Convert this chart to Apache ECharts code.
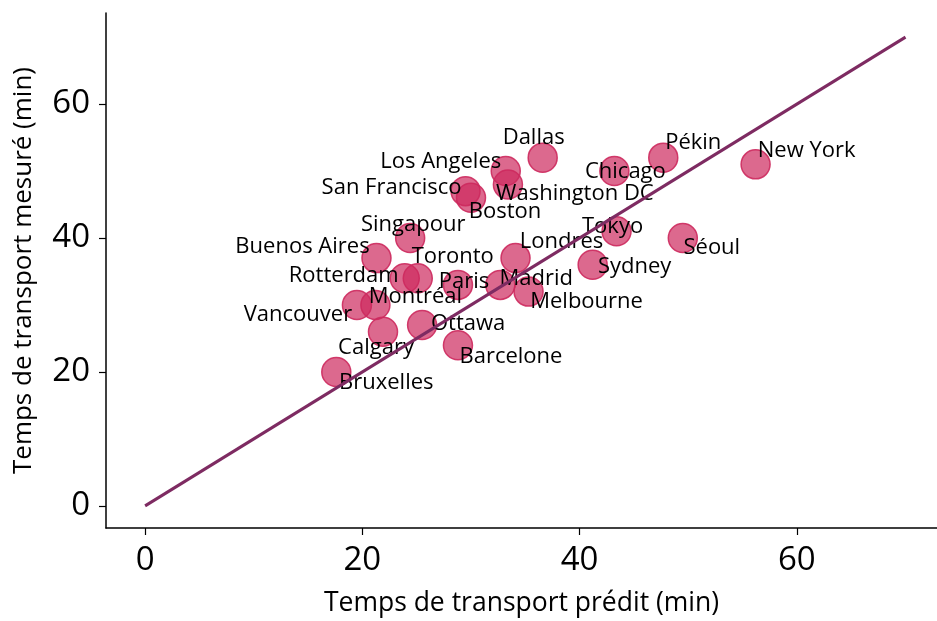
<!DOCTYPE html>
<html lang="fr">
<head>
    <meta charset="UTF-8" />
    <title>Temps de transport</title>
    <script src="https://cdn.jsdelivr.net/npm/echarts@6.0.0/dist/echarts.min.js"></script>
    <style>
        html, body { margin: 0; padding: 0; background: #fff; }
        #main { width: 937px; height: 621px; }
    </style>
</head>
<body>
    <div id="main"></div>

    <script type="text/javascript">
        // Data
        const cities = ["Bruxelles", "Calgary", "Vancouver", "Montréal", "Ottawa", "Barcelone",
            "Rotterdam", "Toronto", "Paris", "Madrid", "Melbourne", "Buenos Aires", "Londres",
            "Singapour", "Sydney", "Tokyo", "Séoul", "Boston", "San Francisco", "Washington DC",
            "Los Angeles", "Chicago", "Dallas", "Pékin", "New York"];
        const predicted = [17.6, 21.9, 19.5, 21.2, 25.5, 28.8,
            23.9, 25.1, 28.8, 32.7, 35.3, 21.3, 34.1,
            24.4, 41.2, 43.4, 49.5, 30.0, 29.5, 33.4,
            33.2, 43.2, 36.6, 47.7, 56.2];
        const measured = [20, 26, 30, 30, 27, 24,
            34, 34, 33, 33, 32, 37, 37,
            40, 36, 41, 40, 46, 47, 48,
            50, 50, 52, 52, 51];
        const lineX = [0, 70];
        const tickValues = [0, 20, 40, 60];

        // label placement (pixel offsets from the marker centre)
        const labelOffsets = {
            "Bruxelles": [50, 11], "Calgary": [-7, 16], "Vancouver": [-59, 10],
            "Montréal": [40, -8], "Ottawa": [46, -1], "Barcelone": [53, 12],
            "Rotterdam": [-61, -2], "Toronto": [35, -21], "Paris": [6, -3],
            "Madrid": [36, -6], "Melbourne": [58, 10], "Buenos Aires": [-74, -11],
            "Londres": [46, -16], "Singapour": [3, -13], "Sydney": [42, 2],
            "Tokyo": [-4, -5], "Séoul": [29, 10], "Boston": [34, 14],
            "San Francisco": [-74, -3], "Washington DC": [67, 9], "Los Angeles": [-65, -9],
            "Chicago": [11, 1], "Dallas": [-9, -20], "Pékin": [30, -15], "New York": [51, -14]
        };

        const font = "'Open Sans', 'Noto Sans', sans-serif";

        let points = cities.map((name, i) => ({
            name: name,
            value: [predicted[i], measured[i]],
            label: { offset: labelOffsets[name] }
        }));

        let options = {
            animation: false,
            grid: { left: 106, right: 0, top: 13, bottom: 93, outerBoundsMode: "none" },
            xAxis: {
                type: "value",
                min: -3.6,
                max: 72.9,
                name: "Temps de transport prédit (min)",
                nameLocation: "middle",
                nameGap: 62,
                nameTextStyle: { fontFamily: font, fontSize: 26.5, color: "#000" },
                splitLine: { show: false },
                axisLine: { show: true, onZero: false, lineStyle: { color: "#000", width: 1.5 } },
                axisTick: { show: true, length: 7, customValues: tickValues, lineStyle: { color: "#000", width: 1.2 } },
                axisLabel: { customValues: tickValues, fontFamily: font, fontSize: 33, color: "#000", margin: 16 }
            },
            yAxis: {
                type: "value",
                min: -3.3,
                max: 73.6,
                name: "Temps de transport mesuré (min)",
                nameLocation: "middle",
                nameGap: 69,
                nameTextStyle: { fontFamily: font, fontSize: 26, color: "#000" },
                splitLine: { show: false },
                axisLine: { show: true, onZero: false, lineStyle: { color: "#000", width: 1.5 } },
                axisTick: { show: true, length: 7, customValues: tickValues, lineStyle: { color: "#000", width: 1.2 } },
                axisLabel: { customValues: tickValues, fontFamily: font, fontSize: 33, color: "#000", margin: 16 }
            },
            series: [
                {
                    type: "scatter",
                    symbolSize: 29,
                    itemStyle: {
                        color: "rgba(205, 42, 94, 0.7)",
                        borderColor: "rgba(205, 42, 94, 0.9)",
                        borderWidth: 1.5,
                        opacity: 1
                    },
                    label: {
                        show: true,
                        position: "inside",
                        formatter: "{b}",
                        fontFamily: font,
                        fontSize: 22,
                        color: "#000",
                        opacity: 1,
                        textBorderWidth: 0
                    },
                    data: points,
                    z: 2
                },
                {
                    type: "line",
                    data: lineX.map(v => [v, v]),
                    symbol: "none",
                    lineStyle: { color: "#7e2b62", width: 3 },
                    z: 3
                }
            ]
        };

        let myChart = echarts.init(document.getElementById("main"));
        myChart.setOption(options);
    </script>
</body>
</html>
